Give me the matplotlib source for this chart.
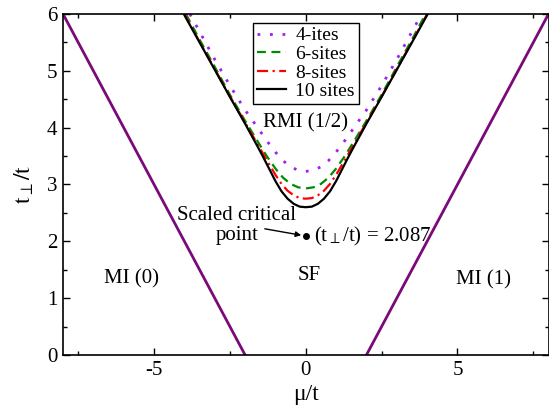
import numpy as np
import matplotlib
matplotlib.use('Agg')
import matplotlib.pyplot as plt

plt.rcParams['font.family'] = ['Liberation Serif', 'DejaVu Serif']
plt.rcParams['mathtext.fontset'] = 'stix'
plt.rcParams['axes.unicode_minus'] = False

# Mott lobe boundaries (purple lines)
mi0_mu = [-8.0, -2.0]
mi0_t = [6.0, 0.0]
mi1_mu = [2.0, 8.0]
mi1_t = [0.0, 6.0]

# RMI(1/2) boundary for the different system sizes
mu_4 = [-3.82, -3.5, -3.0, -2.5, -2.0, -1.6, -1.3, -1.0, -0.75, -0.5, -0.25, 0.0,
        0.25, 0.5, 0.75, 1.0, 1.3, 1.6, 2.0, 2.5, 3.0, 3.5, 3.82]
t_4 = [6.0, 5.69, 5.2, 4.74, 4.31, 4.01, 3.78, 3.57, 3.42, 3.31, 3.25, 3.23,
       3.25, 3.31, 3.42, 3.57, 3.78, 4.01, 4.31, 4.74, 5.2, 5.69, 6.0]

mu_6 = [-3.95, -3.5, -3.0, -2.5, -2.0, -1.6, -1.3, -1.0, -0.75, -0.5, -0.25, 0.0,
        0.25, 0.5, 0.75, 1.0, 1.3, 1.6, 2.0, 2.5, 3.0, 3.5, 3.95]
t_6 = [6.0, 5.55, 5.07, 4.58, 4.12, 3.77, 3.51, 3.28, 3.12, 3.01, 2.95, 2.93,
       2.95, 3.01, 3.12, 3.28, 3.51, 3.77, 4.12, 4.58, 5.07, 5.55, 6.0]

mu_8 = [-4.0, -3.5, -3.0, -2.5, -2.0, -1.6, -1.3, -1.0, -0.8, -0.6, -0.4, -0.2, 0.0,
        0.2, 0.4, 0.6, 0.8, 1.0, 1.3, 1.6, 2.0, 2.5, 3.0, 3.5, 4.0]
t_8 = [6.0, 5.51, 5.03, 4.55, 4.09, 3.72, 3.44, 3.17, 3.01, 2.89, 2.81, 2.76, 2.75,
       2.76, 2.81, 2.89, 3.01, 3.17, 3.44, 3.72, 4.09, 4.55, 5.03, 5.51, 6.0]

mu_10 = [-4.02, -3.5, -3.0, -2.5, -2.0, -1.6, -1.4, -1.2, -1.0, -0.8, -0.6, -0.4, -0.2, 0.0,
         0.2, 0.4, 0.6, 0.8, 1.0, 1.2, 1.4, 1.6, 2.0, 2.5, 3.0, 3.5, 4.02]
t_10 = [6.0, 5.5, 5.02, 4.54, 4.07, 3.68, 3.48, 3.27, 3.06, 2.88, 2.75, 2.66, 2.61, 2.60,
        2.61, 2.66, 2.75, 2.88, 3.06, 3.27, 3.48, 3.68, 4.07, 4.54, 5.02, 5.5, 6.0]

crit_mu = 0.0
crit_t = 2.087

fig = plt.figure(figsize=(5.49, 4.08), dpi=100)
ax = fig.add_axes([0.1148, 0.13, 0.8843, 0.8357])

purple = '#7a0a7a'
ax.plot(mi0_mu, mi0_t, color=purple, linewidth=2.0)
ax.plot(mi1_mu, mi1_t, color=purple, linewidth=2.0)

ax.plot(mu_4, t_4, color='#a020f0', linestyle=(0, (1, 3.5)), linewidth=2.0, label='4-ites')
ax.plot(mu_6, t_6, color='#008c00', linestyle=(0, (4, 2.5)), linewidth=1.6, label='6-sites')
ax.plot(mu_8, t_8, color='#ff0000', linestyle=(0, (5, 2, 1, 2)), linewidth=1.6, label='8-sites')
ax.plot(mu_10, t_10, color='black', linestyle='-', linewidth=1.6, label='10 sites')

ax.plot(crit_mu, crit_t, 'o', color='black', markersize=4)
ax.annotate('', xy=(crit_mu - 0.15, crit_t + 0.02), xytext=(-1.35, 2.22),
            arrowprops=dict(arrowstyle='-|>', color='black', lw=1.0,
                            mutation_scale=8, shrinkA=0, shrinkB=0))
ax.text(-2.28, 2.46, 'Scaled critical', fontsize=15, ha='center', va='center')
ax.text(-2.25, 2.1, 'point', fontsize=15, ha='center', va='center')
ax.text(0.27, crit_t, r'(t$_{\perp}$/t) = 2.087', fontsize=15,
        ha='left', va='center')

ax.text(0.0, 4.08, 'RMI (1/2)', fontsize=15, ha='center', va='center')
ax.text(-5.75, 1.34, 'MI (0)', fontsize=15, ha='center', va='center')
ax.text(0.1, 1.39, 'SF', fontsize=15, ha='center', va='center')
ax.text(5.85, 1.32, 'MI (1)', fontsize=15, ha='center', va='center')

ax.set_xlim(-8, 8)
ax.set_ylim(0, 6)
ax.set_xticks([-5, 0, 5])
ax.set_xticks(np.arange(-7.5, 8, 2.5), minor=True)
ax.set_yticks(np.arange(0, 7, 1))
ax.set_yticks(np.arange(0.5, 6, 1), minor=True)
ax.tick_params(axis='both', which='both', direction='in', top=True, right=True,
               labelsize=15, width=1.0)
ax.tick_params(axis='both', which='major', length=5, pad=4)
ax.tick_params(axis='both', which='minor', length=3)
for spine in ax.spines.values():
    spine.set_linewidth(1.2)

ax.set_xlabel('μ/t', fontsize=17, labelpad=3)
ax.set_ylabel(r'$\mathrm{t_{\perp}/t}$', fontsize=17, labelpad=8)

leg = ax.legend(loc='upper center', bbox_to_anchor=(0.5, 0.985), fontsize=14,
                frameon=True, fancybox=False, handlelength=1.5,
                borderpad=0.2, labelspacing=0.05, handletextpad=0.5,
                borderaxespad=0.2)
leg.get_frame().set_edgecolor('black')
leg.get_frame().set_linewidth(1.0)
leg.get_frame().set_alpha(1.0)

fig.savefig('out.png', dpi=100)
